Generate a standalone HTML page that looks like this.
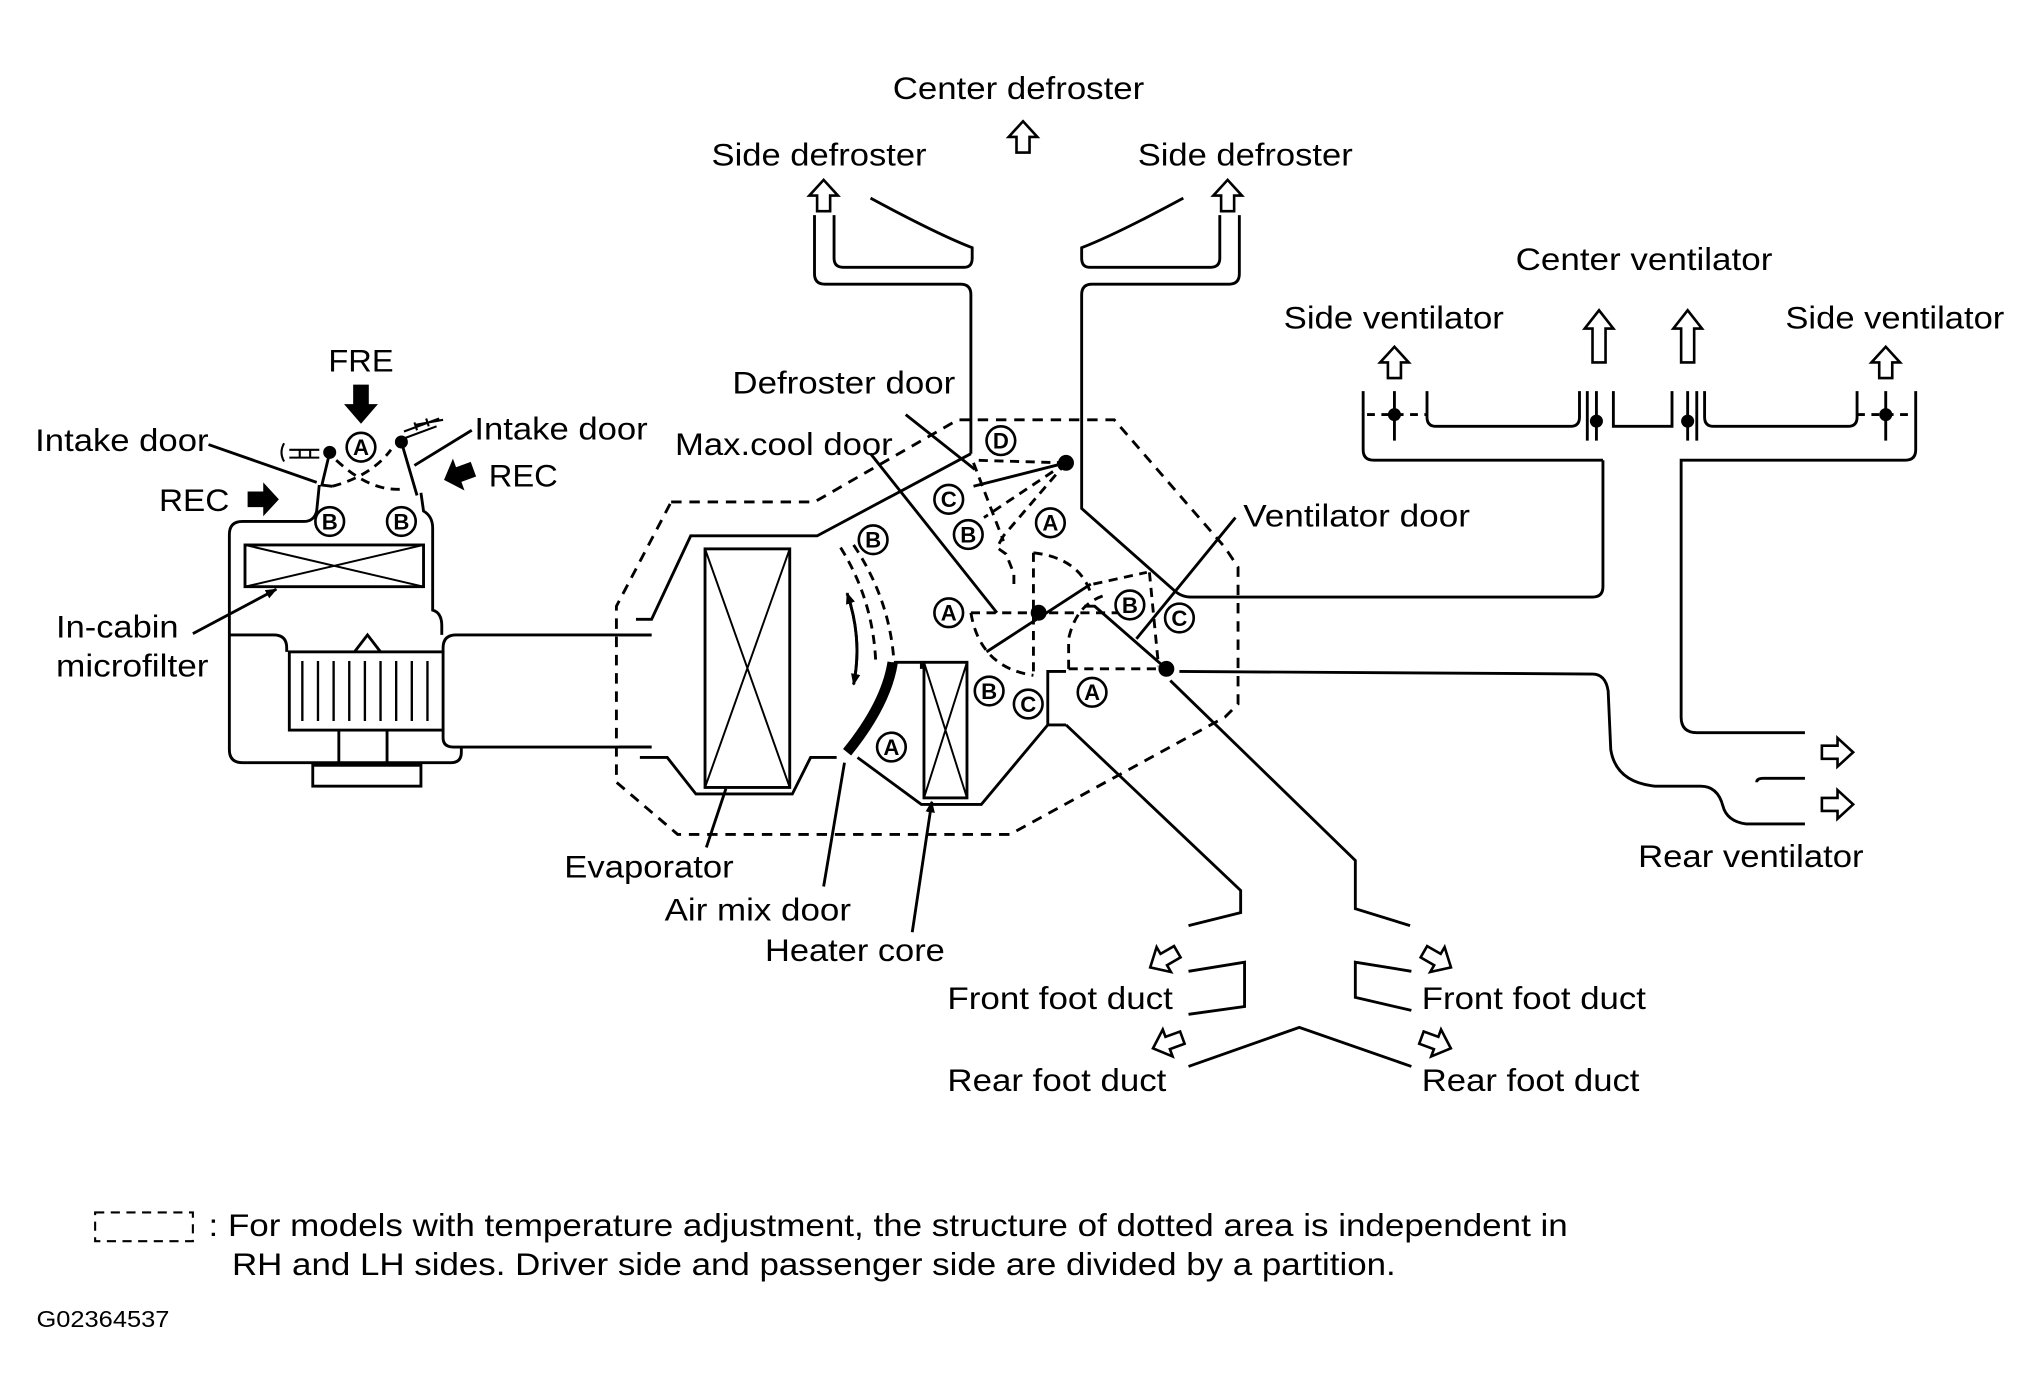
<!DOCTYPE html>
<html><head><meta charset="utf-8"><style>
html,body{margin:0;padding:0;background:#fff;}
svg{display:block;}
text{font-family:"Liberation Sans",Arial,sans-serif;font-size:24px;fill:#000;}
.c text{font-size:17px;font-weight:bold;text-anchor:middle;}
</style></head><body>
<svg width="2033" height="1395" viewBox="0 0 1560 1070" preserveAspectRatio="none" xmlns="http://www.w3.org/2000/svg">
<defs>
<marker id="ah" viewBox="0 0 10 10" refX="9" refY="5" markerWidth="9" markerHeight="9" orient="auto" markerUnits="userSpaceOnUse"><path d="M0,1 L10,5 L0,9 Z" fill="#000"/></marker>
<path id="ua" d="M-5,12 L-5,0 L-11,0 L0,-12 L11,0 L5,0 L5,12 Z" fill="#fff" stroke="#000" stroke-width="2"/>
<path id="ut" d="M-5,26 L-5,0 L-11,0 L0,-14 L11,0 L5,0 L5,26 Z" fill="#fff" stroke="#000" stroke-width="2"/>
<path id="ba" d="M-12,-6 L0,-6 L0,-13 L12,0 L0,13 L0,6 L-12,6 Z" fill="#000"/>
</defs>
<g fill="none" stroke="#000" stroke-width="2.2">
<!-- LEFT UNIT -->
<path d="M245,372 L243,392 Q241,400 233,400 L186,400 Q176,400 176,410 L176,575 Q176,585 186,585 L346,585 Q354,585 354,577 L354,573"/>
<path d="M323,378 L325,392 Q332,396 332,405 L332,468 Q339,470 339,480 L339,487"/>
<rect x="188" y="418" width="137" height="32"/>
<path d="M188,418 L325,450 M325,418 L188,450" stroke-width="1.5"/>
<path d="M176,487 L210,487 Q220,487 220,497 L220,500"/>
<path d="M500,487 L350,487 Q340,487 340,497 L340,500"/>
<rect x="222" y="500" width="118" height="60"/>
<path d="M232,507 V553 M244,507 V553 M256,507 V553 M268,507 V553 M280,507 V553 M292,507 V553 M304,507 V553 M316,507 V553 M328,507 V553" stroke-width="1.8"/>
<path d="M272,500 L282,487 L292,500"/>
<path d="M260,560 V587 M297,560 V587"/>
<rect x="240" y="587" width="83" height="16"/>
<path d="M340,560 L340,566 Q340,573 348,573 L500,573"/>
<path d="M253,347 L247,372 L255,373 M308,339 L320,380"/>
<path d="M255,373 Q285,365 300,345 M258,353 Q285,378 310,375" stroke-dasharray="7,5"/>
<path d="M245,345 L222,345 M245,351 L222,351 M230,345 V351 M238,345 V351 M218,340 Q214,347 218,354" stroke-width="1.6"/>
<path d="M308,337 L335,327 M310,331 L337,321 M320,330 L318,324 M329,327 L327,321 M318,326 L340,322" stroke-width="1.6"/>
<path d="M160,341 L243,370 M362,330 L318,357 M148,486 L212,452" marker-end="url(#ah)"/>
<!-- MAIN HOUSING -->
<path d="M475,487 L500,487 M475,573 L500,573"/>
<path d="M488,475 L500,475 L530,411 L627,411 L745,348"/>
<path d="M491,581 L512,581 L534,609 L608,609 L622,581 L642,581 M658,581 L707,617 L753,617 L804,556 L818,556"/>
<path d="M804,556 L804,515 L818,515"/>
<path d="M686,508 L707,508 L707,513"/>
<rect x="541" y="421" width="65" height="183"/>
<path d="M541,421 L606,604 M606,421 L541,604" stroke-width="1.5"/>
<rect x="709" y="508" width="33" height="104"/>
<path d="M709,508 L742,612 M742,508 L709,612" stroke-width="1.5"/>
<!-- dashed region -->
<path d="M515,385 L625,385 L735,322 L855,322 L940,420 L950,435 L950,540 L940,550 L775,640 L520,640 L473,600 L473,465 Z" stroke-dasharray="8,6"/>
<!-- defroster ducts -->
<path d="M625,165 L625,210 Q625,218 633,218 L737,218 Q745,218 745,226 L745,348"/>
<path d="M640,165 L640,198 Q640,205 647,205 L740,205 Q746,205 746,198 L746,190 Q720,180 668,152"/>
<path d="M951,165 L951,210 Q951,218 943,218 L838,218 Q830,218 830,226 L830,390 L900,452 Q906,458 914,458 L1222,458 Q1230,458 1230,450 L1230,353"/>
<path d="M936,165 L936,198 Q936,205 929,205 L836,205 Q830,205 830,198 L830,190 Q856,180 908,152"/>
<!-- defroster door -->
<circle cx="818" cy="355" r="5" fill="#000"/>
<path d="M818,355 L747,373"/>
<path d="M818,355 L747,353 M818,355 L755,397 M818,355 L770,411 M747,355 L770,415 M770,411 L765,420 L772,425 L778,440 L778,450" stroke-dasharray="7,5"/>
<!-- max cool door -->
<circle cx="797" cy="470" r="5" fill="#000"/>
<path d="M757,500 L837,448"/>
<path d="M745,470 L870,470 M793,424 L793,518 M793,424 Q828,428 837,455 M745,470 Q752,512 793,518" stroke-dasharray="7,5"/>
<!-- ventilator door -->
<circle cx="895" cy="513" r="5" fill="#000"/>
<path d="M895,513 L840,465 L832,465"/>
<path d="M820,513 L895,513 M820,513 L820,490 Q826,462 850,456 M839,448 L880,439 M882,439 L889,511" stroke-dasharray="7,5"/>
<path d="M905,515 L1222,517 Q1232,517 1234,530 L1236,575 Q1240,600 1270,603 L1305,603 Q1318,603 1322,618 Q1325,630 1340,632 L1385,632"/>
<path d="M898,522 L1040,660 L1040,697 L1082,710"/>
<path d="M818,556 L952,683 L952,700 L912,710"/>
<path d="M912,745 L955,738 L955,772 L912,778"/>
<path d="M1083,745 L1040,738 L1040,765 L1083,775"/>
<path d="M912,818 L997,788 L1083,818"/>
<!-- air mix door -->
<path d="M650,577 Q680,540 685,508" stroke-width="8"/>
<path d="M645,420 Q670,460 672,508 M655,418 Q683,460 686,508" stroke-dasharray="7,5"/>
<path d="M650,455 Q662,490 655,525" marker-end="url(#ah)"/>
<path d="M655,525 Q662,490 650,455" marker-end="url(#ah)"/>
<!-- ventilator ducts -->
<path d="M1046,300 L1046,345 Q1046,353 1054,353 L1230,353"/>
<path d="M1470,300 L1470,345 Q1470,353 1462,353 L1290,353 L1290,550 Q1290,562 1302,562 L1385,562"/>
<path d="M1095,300 L1095,320 Q1095,327 1102,327 L1205,327 Q1212,327 1212,320 L1212,300"/>
<path d="M1238,300 L1238,327 L1283,327 L1283,300"/>
<path d="M1308,300 L1308,320 Q1308,327 1315,327 L1418,327 Q1425,327 1425,320 L1425,300"/>
<path d="M1218,300 V338 M1225,300 V338 M1295,300 V338 M1302,300 V338"/>
<path d="M1070,300 V338 M1447,300 V338"/>
<path d="M1049,318 L1095,318 M1425,318 L1468,318" stroke-dasharray="6,5"/>
<path d="M1353,597 L1385,597 M1353,597 Q1348,597 1348,600" />
<!-- leaders -->
<path d="M695,318 L748,360 M668,348 L765,470 M948,397 L872,490 M542,650 L557,605 M632,680 L648,585 M700,715 L715,615" marker-end="url(#ah)"/>
<!-- legend -->
<rect x="73" y="930" width="75" height="22" stroke-dasharray="7,5" stroke-width="1.6"/>
</g>
<g fill="#000">
<circle cx="253" cy="347" r="5"/><circle cx="308" cy="339" r="5"/>
<circle cx="1070" cy="318" r="5"/><circle cx="1225" cy="323" r="5"/><circle cx="1295" cy="323" r="5"/><circle cx="1447" cy="318" r="5"/>
<path d="M271,295 L283,295 L283,310 L290,310 L277,325 L264,310 L271,310 Z"/>
</g>
<use href="#ba" x="202" y="383"/>
<use href="#ba" transform="translate(352,364) rotate(160)"/>
<use href="#ua" x="632" y="150"/><use href="#ua" x="785" y="105"/><use href="#ua" x="942" y="150"/>
<use href="#ua" x="1070" y="278"/><use href="#ua" x="1447" y="278"/>
<use href="#ut" x="1227" y="252"/><use href="#ut" x="1295" y="252"/>
<use href="#ua" transform="translate(1410,577) rotate(90)"/>
<use href="#ua" transform="translate(1410,617) rotate(90)"/>
<use href="#ua" transform="translate(893,736) rotate(-120)"/>
<use href="#ua" transform="translate(896,800) rotate(-110)"/>
<use href="#ua" transform="translate(1103,736) rotate(120)"/>
<use href="#ua" transform="translate(1102,800) rotate(110)"/>
<g class="c">
<g fill="#fff" stroke="#000" stroke-width="2">
<circle cx="277" cy="343" r="11"/><circle cx="253" cy="400" r="11"/><circle cx="308" cy="400" r="11"/>
<circle cx="768" cy="338" r="11"/><circle cx="728" cy="383" r="11"/><circle cx="743" cy="410" r="11"/><circle cx="806" cy="401" r="11"/>
<circle cx="670" cy="414" r="11"/><circle cx="728" cy="470" r="11"/><circle cx="867" cy="464" r="11"/><circle cx="905" cy="474" r="11"/>
<circle cx="759" cy="530" r="11"/><circle cx="789" cy="540" r="11"/><circle cx="838" cy="531" r="11"/><circle cx="684" cy="573" r="11"/>
</g>
<text x="277" y="349">A</text><text x="253" y="406">B</text><text x="308" y="406">B</text>
<text x="768" y="344">D</text><text x="728" y="389">C</text><text x="743" y="416">B</text><text x="806" y="407">A</text>
<text x="670" y="420">B</text><text x="728" y="476">A</text><text x="867" y="470">B</text><text x="905" y="480">C</text>
<text x="759" y="536">B</text><text x="789" y="546">C</text><text x="838" y="537">A</text><text x="684" y="579">A</text>
</g>
<g lengthAdjust="spacingAndGlyphs">
<text x="685" y="76" textLength="193" lengthAdjust="spacingAndGlyphs">Center defroster</text>
<text x="546" y="127" textLength="165" lengthAdjust="spacingAndGlyphs">Side defroster</text>
<text x="873" y="127" textLength="165" lengthAdjust="spacingAndGlyphs">Side defroster</text>
<text x="1163" y="207" textLength="197" lengthAdjust="spacingAndGlyphs">Center ventilator</text>
<text x="985" y="252" textLength="169" lengthAdjust="spacingAndGlyphs">Side ventilator</text>
<text x="1370" y="252" textLength="168" lengthAdjust="spacingAndGlyphs">Side ventilator</text>
<text x="252" y="285" textLength="50" lengthAdjust="spacingAndGlyphs">FRE</text>
<text x="27" y="346" textLength="133" lengthAdjust="spacingAndGlyphs">Intake door</text>
<text x="364" y="337" textLength="133" lengthAdjust="spacingAndGlyphs">Intake door</text>
<text x="122" y="392" textLength="54" lengthAdjust="spacingAndGlyphs">REC</text>
<text x="375" y="373" textLength="53" lengthAdjust="spacingAndGlyphs">REC</text>
<text x="43" y="489" textLength="94" lengthAdjust="spacingAndGlyphs">In-cabin</text>
<text x="43" y="519" textLength="117" lengthAdjust="spacingAndGlyphs">microfilter</text>
<text x="562" y="302" textLength="171" lengthAdjust="spacingAndGlyphs">Defroster door</text>
<text x="518" y="349" textLength="167" lengthAdjust="spacingAndGlyphs">Max.cool door</text>
<text x="954" y="404" textLength="174" lengthAdjust="spacingAndGlyphs">Ventilator door</text>
<text x="433" y="673" textLength="130" lengthAdjust="spacingAndGlyphs">Evaporator</text>
<text x="510" y="706" textLength="143" lengthAdjust="spacingAndGlyphs">Air mix door</text>
<text x="587" y="737" textLength="138" lengthAdjust="spacingAndGlyphs">Heater core</text>
<text x="1257" y="665" textLength="173" lengthAdjust="spacingAndGlyphs">Rear ventilator</text>
<text x="727" y="774" textLength="173" lengthAdjust="spacingAndGlyphs">Front foot duct</text>
<text x="1091" y="774" textLength="172" lengthAdjust="spacingAndGlyphs">Front foot duct</text>
<text x="727" y="837" textLength="168" lengthAdjust="spacingAndGlyphs">Rear foot duct</text>
<text x="1091" y="837" textLength="167" lengthAdjust="spacingAndGlyphs">Rear foot duct</text>
<text x="160" y="948" textLength="1043" lengthAdjust="spacingAndGlyphs">: For models with temperature adjustment, the structure of dotted area is independent in</text>
<text x="178" y="978" textLength="893" lengthAdjust="spacingAndGlyphs">RH and LH sides. Driver side and passenger side are divided by a partition.</text>
<text x="28" y="1018" style="font-size:18px" textLength="102" lengthAdjust="spacingAndGlyphs">G02364537</text>
</g>
</svg>
</body></html>
